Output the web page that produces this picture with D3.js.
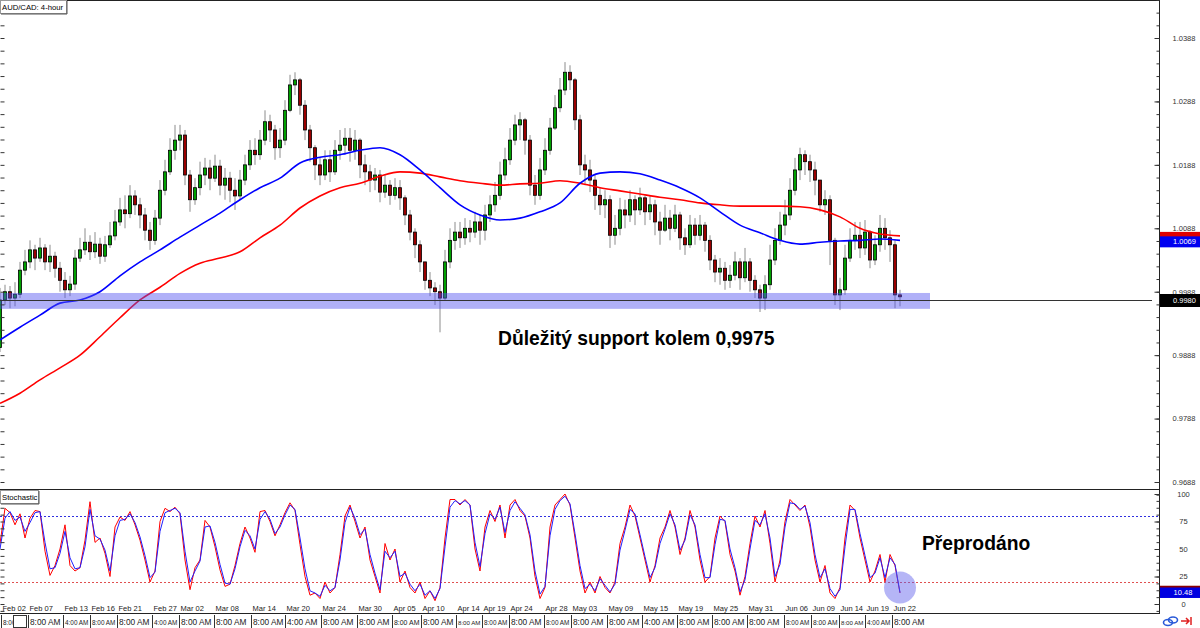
<!DOCTYPE html>
<html><head><meta charset="utf-8">
<script src="https://d3js.org/d3.v7.min.js"></script>
<style>
html,body{margin:0;padding:0;background:#fff;}
svg{display:block;font-family:"Liberation Sans",Arial,sans-serif;}
</style></head><body>
<svg id="chart" width="1200" height="628"></svg>
<script>
// ---------------- DATA ----------------
const firstOpen = 0.9900;
const closes = [
0.9975,0.9988,0.9978,0.9984,1.0022,1.0035,1.0054,1.0041,1.0057,1.0035,
1.0044,1.0025,1.0006,0.9991,1.0000,1.0041,1.0054,1.0066,1.0051,1.0063,
1.0044,1.0062,1.0076,1.0098,1.0117,1.0111,1.0139,1.0125,1.0109,1.0085,
1.0069,1.0104,1.0148,1.0177,1.0211,1.0227,1.0235,1.0172,1.0133,1.0152,
1.0172,1.0183,1.0167,1.0186,1.0156,1.0167,1.0148,1.0139,1.0164,1.0188,
1.0211,1.0204,1.0227,1.0256,1.0243,1.0215,1.0227,1.0274,1.0314,1.0322,
1.0282,1.0243,1.0215,1.0188,1.0172,1.0196,1.0177,1.0211,1.0219,1.0230,
1.0211,1.0227,1.0188,1.0177,1.0164,1.0172,1.0145,1.0156,1.0140,1.0152,
1.0136,1.0109,1.0082,1.0062,1.0035,1.0006,0.9994,0.9988,0.9978,1.0035,
1.0069,1.0082,1.0073,1.0088,1.0082,1.0098,1.0085,1.0109,1.0125,1.0140,
1.0172,1.0196,1.0227,1.0251,1.0259,1.0227,1.0156,1.0140,1.0180,1.0211,
1.0246,1.0278,1.0306,1.0334,1.0322,1.0259,1.0188,1.0180,1.0164,1.0140,
1.0125,1.0133,1.0077,1.0088,1.0117,1.0109,1.0133,1.0117,1.0136,1.0114,
1.0125,1.0098,1.0085,1.0104,1.0088,1.0109,1.0073,1.0062,1.0093,1.0077,
1.0093,1.0069,1.0038,1.0019,1.0025,1.0006,1.0014,1.0035,1.0010,1.0035,
1.0006,0.9991,0.9978,0.9999,1.0038,1.0069,1.0093,1.0109,1.0148,1.0180,
1.0204,1.0193,1.0180,1.0164,1.0125,1.0133,1.0069,0.9983,0.9991,1.0041,
1.0069,1.0077,1.0057,1.0082,1.0038,1.0062,1.0088,1.0073,1.0062,0.9983,
0.9980];
const highs = [
0.9994,0.9999,0.9997,1.0003,1.0035,1.0054,1.0069,1.0062,1.0073,1.0063,
1.0062,1.0051,1.0035,1.0019,1.0013,1.0054,1.0073,1.0088,1.0077,1.0082,
1.0073,1.0076,1.0098,1.0117,1.0136,1.0140,1.0156,1.0148,1.0136,1.0120,
1.0098,1.0117,1.0164,1.0196,1.0230,1.0251,1.0251,1.0243,1.0180,1.0167,
1.0193,1.0199,1.0196,1.0204,1.0196,1.0183,1.0177,1.0167,1.0180,1.0204,
1.0227,1.0230,1.0243,1.0274,1.0267,1.0251,1.0246,1.0290,1.0330,1.0334,
1.0325,1.0290,1.0251,1.0219,1.0199,1.0211,1.0211,1.0227,1.0243,1.0246,
1.0246,1.0243,1.0230,1.0204,1.0188,1.0183,1.0180,1.0172,1.0164,1.0167,
1.0164,1.0140,1.0117,1.0088,1.0069,1.0035,1.0019,1.0003,0.9999,1.0054,
1.0088,1.0098,1.0098,1.0104,1.0101,1.0114,1.0109,1.0125,1.0140,1.0161,
1.0193,1.0215,1.0246,1.0267,1.0271,1.0262,1.0235,1.0172,1.0199,1.0230,
1.0262,1.0298,1.0325,1.0350,1.0345,1.0325,1.0267,1.0204,1.0196,1.0172,
1.0152,1.0148,1.0140,1.0109,1.0136,1.0133,1.0148,1.0140,1.0152,1.0140,
1.0140,1.0133,1.0114,1.0125,1.0117,1.0125,1.0114,1.0088,1.0109,1.0104,
1.0109,1.0098,1.0077,1.0046,1.0041,1.0035,1.0030,1.0051,1.0041,1.0057,
1.0041,1.0014,0.9999,1.0014,1.0062,1.0088,1.0114,1.0133,1.0167,1.0199,
1.0215,1.0211,1.0204,1.0193,1.0164,1.0148,1.0140,1.0073,1.0010,1.0062,
1.0088,1.0098,1.0098,1.0101,1.0085,1.0077,1.0109,1.0104,1.0085,1.0069,
0.9991];
const lows = [
0.9893,0.9967,0.9962,0.9965,0.9978,1.0014,1.0025,1.0022,1.0035,1.0022,
1.0019,1.0010,0.9988,0.9978,0.9981,0.9991,1.0035,1.0046,1.0038,1.0041,
1.0032,1.0035,1.0057,1.0069,1.0092,1.0088,1.0104,1.0109,1.0088,1.0069,
1.0054,1.0062,1.0093,1.0140,1.0172,1.0196,1.0211,1.0156,1.0114,1.0125,
1.0140,1.0156,1.0148,1.0161,1.0140,1.0133,1.0129,1.0117,1.0133,1.0156,
1.0180,1.0188,1.0196,1.0219,1.0224,1.0196,1.0199,1.0219,1.0271,1.0298,
1.0267,1.0227,1.0193,1.0164,1.0156,1.0164,1.0161,1.0172,1.0196,1.0204,
1.0193,1.0196,1.0167,1.0156,1.0145,1.0148,1.0129,1.0136,1.0125,1.0133,
1.0117,1.0093,1.0069,1.0041,1.0019,0.9991,0.9981,0.9967,0.9924,0.9975,
1.0025,1.0054,1.0057,1.0062,1.0066,1.0073,1.0062,1.0069,1.0098,1.0114,
1.0133,1.0164,1.0188,1.0219,1.0227,1.0204,1.0140,1.0125,1.0133,1.0172,
1.0204,1.0243,1.0271,1.0298,1.0306,1.0243,1.0172,1.0156,1.0145,1.0117,
1.0109,1.0104,1.0057,1.0062,1.0077,1.0088,1.0098,1.0093,1.0109,1.0093,
1.0101,1.0077,1.0062,1.0082,1.0069,1.0082,1.0054,1.0046,1.0057,1.0062,
1.0069,1.0051,1.0022,1.0003,0.9999,0.9991,0.9994,1.0006,0.9991,1.0003,
0.9988,0.9978,0.9956,0.9959,0.9991,1.0030,1.0062,1.0077,1.0101,1.0140,
1.0164,1.0172,1.0161,1.0140,1.0114,1.0109,1.0030,0.9967,0.9959,0.9983,
1.0035,1.0054,1.0041,1.0046,1.0025,1.0030,1.0051,1.0054,1.0035,0.9962,
0.9965];
// moving averages, one reading every 4 bars
const maStep = 4;
const maBlue = [0.9912,0.9932,0.9951,0.9970,0.9975,0.9988,1.0013,1.0035,1.0054,1.0074,
1.0093,1.0112,1.0133,1.0152,1.0167,1.0191,1.0200,1.0204,1.0211,1.0215,
1.0204,1.0180,1.0152,1.0125,1.0109,1.0101,1.0104,1.0114,1.0128,1.0159,
1.0175,1.0177,1.0174,1.0164,1.0152,1.0136,1.0114,1.0093,1.0081,1.0069,
1.0063,1.0066,1.0068,1.0069,1.0071,1.0069];
const maRed = [0.9812,0.9828,0.9849,0.9868,0.9888,0.9917,0.9947,0.9975,0.9995,1.0017,
1.0033,1.0041,1.0051,1.0073,1.0093,1.0120,1.0139,1.0152,1.0159,1.0170,
1.0177,1.0175,1.0169,1.0163,1.0159,1.0156,1.0158,1.0159,1.0163,1.0159,
1.0152,1.0147,1.0142,1.0137,1.0133,1.0128,1.0125,1.0123,1.0123,1.0123,
1.0122,1.0117,1.0106,1.0088,1.0079,1.0076];
// stochastic (per bar)
const stochRed = [55,87,83,72,82,60,78,85,84,48,26,35,50,72,35,30,33,58,93,56,60,46,25,70,79,76,84,72,58,40,20,30,75,87,84,88,82,40,13,33,40,76,70,52,31,16,18,35,55,70,60,47,84,85,75,62,72,83,92,85,54,
25,8,10,5,20,10,15,45,80,90, 75,60,70,40,25,10,55,40,50,20, 30,15,10,20,5,12,3,15,60,95,
95,90,95,90,50,30,70,85,75,90, 60,90,95,85,80,60,25,5,15,70, 90,95,100,90,60,30,10,20,10,25,
15,10,20,55,70,90,80,60,40,20, 35,60,70,85,70,45,60,85,70,40, 20,25,60,80,75,45,30,8,25,55,
80,70,85,55,20,40,75,95,90,85, 90,70,40,20,35,10,5,15,60,90, 85,60,40,20,30,45,20,45,35,10];
const stochBlue = [50,78,84,76,79,66,74,83,84,56,32,33,46,66,42,32,33,52,86,62,59,49,30,62,76,77,82,74,61,44,24,29,66,83,85,87,83,48,20,30,39,70,71,56,36,19,18,32,52,67,62,50,77,84,77,64,70,81,90,86,60,
32,12,10,7,17,12,15,40,74,88, 78,63,68,45,28,13,48,42,48,25, 28,18,12,18,8,12,5,14,52,88,
94,91,94,90,56,34,64,82,77,88, 65,85,93,87,81,63,30,9,16,62, 86,94,98,91,64,35,14,18,12,23,
17,11,18,49,67,86,82,63,43,24, 33,55,68,82,72,49,58,81,72,45, 24,24,54,77,76,50,33,11,22,50,
76,72,82,60,25,36,70,92,91,86, 89,74,45,24,32,14,7,13,52,86, 86,64,44,24,28,42,24,42,36,10.48];
const priceTicks = [1.0388,1.0288,1.0188,1.0088,0.9988,0.9888,0.9788,0.9688];
const stochTicks = [100,75,50,25,0];
const stochLevels = [80,20];
const dateLabels = ["Feb 02","Feb 07","Feb 13","Feb 16","Feb 21","Feb 27","Mar 02","Mar 08","Mar 14","Mar 20","Mar 24","Mar 30","Apr 05","Apr 10","Apr 14","Apr 19","Apr 24","Apr 28","May 03","May 09","May 15","May 19","May 25","May 31","Jun 06","Jun 09","Jun 14","Jun 19","Jun 22"];
// bar position (in bar units) of each date label
const dateIdx = [0.2,5.6,12.6,18,23.4,30.4,35.8,42.8,50.2,57,64.2,71.4,78.4,84.2,91.2,96.4,101.8,108.8,114.2,121.4,128.4,135.4,142.4,149.4,156.8,162.2,167.8,173,178.4];
const timeLabels = ["8:00 AM","8:00 AM","4:00 AM","8:00 AM","8:00 AM","4:00 AM","8:00 AM","8:00 AM","8:00 AM","4:00 AM","8:00 AM","8:00 AM","8:00 AM","8:00 AM","8:00 AM","8:00 AM","8:00 AM","8:00 AM","8:00 AM","8:00 AM","4:00 AM","8:00 AM","8:00 AM","8:00 AM","8:00 AM","8:00 AM","8:00 AM","4:00 AM","8:00 AM"];
const supportZone = [0.9961, 0.9986];
const lastPrice = 0.9980, lastBlueMA = 1.0069, lastRedMA = 1.0076, lastStochBlue = 10.48, lastStochRed = 11.6;
const title = "AUD/CAD: 4-hour";
const noteSupport = "Důležitý support kolem 0,9975";
const noteStoch = "Přeprodáno";

// ---------------- CHART ----------------
const svg = d3.select("#chart");
const PR = 1159;
const x = d3.scaleLinear().domain([0,180]).range([0,900]);
const y = d3.scaleLinear().domain([0.9688,1.0388]).range([482,38]);
const ys = d3.scaleLinear().domain([0,100]).range([604,494]);
const fmt4 = d3.format(".4f");

const defs = svg.append("defs");
defs.append("clipPath").attr("id","cm").append("rect").attr("x",0).attr("y",1).attr("width",PR).attr("height",488);
defs.append("clipPath").attr("id","cs").append("rect").attr("x",0).attr("y",490).attr("width",PR).attr("height",123);

const main = svg.append("g").attr("clip-path","url(#cm)");
const candles = closes.map((c,i)=>({i, o: i===0?firstOpen:closes[i-1], h: highs[i], l: lows[i], c}));

main.append("g").selectAll("line").data(candles).join("line")
  .attr("x1",d=>x(d.i)).attr("x2",d=>x(d.i))
  .attr("y1",d=>y(Math.max(d.h,d.o,d.c))).attr("y2",d=>y(Math.min(d.l,d.o,d.c)))
  .attr("stroke","#8c8c8c").attr("stroke-width",1);
main.append("g").selectAll("rect").data(candles).join("rect")
  .attr("x",d=>x(d.i)-1.5).attr("width",3)
  .attr("y",d=>y(Math.max(d.o,d.c)))
  .attr("height",d=>Math.max(0.5,Math.abs(y(d.o)-y(d.c))))
  .attr("fill",d=>d.c>=d.o?"#00a000":"#9a0000")
  .attr("stroke","#000").attr("stroke-width",0.8);

const maLine = d3.line().x((d,k)=>x(k*maStep)).y(d=>y(d)).curve(d3.curveMonotoneX);
main.append("path").attr("d",maLine(maRed)).attr("fill","none").attr("stroke","#ff0000").attr("stroke-width",1.6);
main.append("path").attr("d",maLine(maBlue)).attr("fill","none").attr("stroke","#0000ff").attr("stroke-width",1.6);

// support zone
main.append("rect").attr("x",0).attr("width",930)
  .attr("y",y(supportZone[1])).attr("height",y(supportZone[0])-y(supportZone[1]))
  .attr("fill","rgb(80,80,240)").attr("fill-opacity",0.45);
// bid line (drawn at the centre of its price tag)
const bidY = Math.round(y(lastPrice)) + 3.5;
main.append("line").attr("x1",0).attr("x2",1152).attr("y1",bidY).attr("y2",bidY)
  .attr("stroke","#333").attr("stroke-width",1);

svg.append("text").attr("x",498).attr("y",345).attr("font-size",19.3).attr("font-weight","bold").attr("fill","#000").text(noteSupport);

// ---------------- STOCHASTIC ----------------
const st = svg.append("g").attr("clip-path","url(#cs)");
st.append("line").attr("x1",0).attr("x2",PR).attr("y1",Math.round(ys(stochLevels[0]))+0.5).attr("y2",Math.round(ys(stochLevels[0]))+0.5)
  .attr("stroke","#3030e0").attr("stroke-dasharray","2,2").attr("stroke-width",1);
st.append("line").attr("x1",0).attr("x2",PR).attr("y1",Math.round(ys(stochLevels[1]))+0.5).attr("y2",Math.round(ys(stochLevels[1]))+0.5)
  .attr("stroke","#e05050").attr("stroke-dasharray","2,2").attr("stroke-width",1);
const sLine = d3.line().x((d,i)=>x(i)).y(d=>ys(d));
st.append("path").attr("d",sLine(stochRed)).attr("fill","none").attr("stroke","#ff0000").attr("stroke-width",1);
st.append("path").attr("d",sLine(stochBlue)).attr("fill","none").attr("stroke","#2020ff").attr("stroke-width",1);
st.append("circle").attr("cx",x(180)).attr("cy",ys(15)).attr("r",16).attr("fill","rgb(90,90,235)").attr("fill-opacity",0.45);
svg.append("text").attr("x",922).attr("y",550).attr("font-size",19.3).attr("font-weight","bold").attr("fill","#000").text(noteStoch);

// ---------------- FRAME ----------------
const frame = svg.append("g").attr("stroke","#222").attr("stroke-width",1);
frame.append("line").attr("x1",0).attr("x2",PR).attr("y1",0.5).attr("y2",0.5);
frame.append("line").attr("x1",0).attr("x2",PR).attr("y1",489.5).attr("y2",489.5);
frame.append("line").attr("x1",0).attr("x2",PR).attr("y1",613.5).attr("y2",613.5);
frame.append("line").attr("x1",PR+0.5).attr("x2",PR+0.5).attr("y1",0).attr("y2",614);

// ---------------- AXES ----------------
function styleAxis(g, fs){ g.select(".domain").remove(); g.attr("font-family","'Liberation Sans',Arial,sans-serif").attr("font-size",fs).attr("color","#333"); }
const minorP = d3.range(-3,37).map(k=>1.0388-k*0.002);
svg.append("g").attr("transform",`translate(${PR+0.5},0)`)
  .call(d3.axisRight(y).tickValues(minorP).tickSize(-3).tickFormat(""))
  .call(g=>styleAxis(g,7.5));
svg.append("g").attr("transform",`translate(0.5,0)`)
  .call(d3.axisLeft(y).tickValues(minorP).tickSize(-4).tickFormat(""))
  .call(g=>styleAxis(g,7.5));
svg.append("g").attr("transform",`translate(${PR+0.5},0)`)
  .call(d3.axisRight(y).tickValues(priceTicks).tickSize(-5).tickPadding(13).tickFormat(fmt4))
  .call(g=>styleAxis(g,7.5));
const minorS = d3.range(-6.25,106,6.25);
svg.append("g").attr("transform",`translate(${PR+0.5},0)`)
  .call(d3.axisRight(ys).tickValues(minorS).tickSize(-3).tickFormat(""))
  .call(g=>styleAxis(g,7.5));
svg.append("g").attr("transform",`translate(0.5,0)`)
  .call(d3.axisLeft(ys).tickValues(minorS).tickSize(-4).tickFormat(""))
  .call(g=>styleAxis(g,7.5));
svg.append("g").attr("transform",`translate(${PR+0.5},0)`)
  .call(d3.axisRight(ys).tickValues(stochTicks).tickSize(-5).tickPadding(24).tickFormat(d3.format("d")))
  .call(g=>{styleAxis(g,7.5); g.selectAll("text").attr("text-anchor","middle");});

// right-hand value tags
function priceTag(fill, yy, h, txt){
  const g = svg.append("g");
  g.append("rect").attr("x",PR+1).attr("y",yy).attr("width",1200-PR-1).attr("height",h).attr("fill",fill);
  if (txt) g.append("text").attr("x",1173).attr("y",yy+h/2).attr("dy","0.35em").attr("font-size",7.5).attr("fill","#fff").text(txt);
}
priceTag("#e00000", y(lastRedMA)-4, 12, null);          // red MA tag, hidden under the blue one
priceTag("#0000f0", y(lastBlueMA)-4, 11, fmt4(lastBlueMA));
priceTag("#000", bidY-6.5, 13, fmt4(lastPrice));
svg.append("rect").attr("x",PR+1).attr("y",ys(lastStochRed)-5.5).attr("width",1200-PR-1).attr("height",11).attr("fill","#8b0000");
svg.append("rect").attr("x",PR+1).attr("y",ys(lastStochBlue)-5).attr("width",1200-PR-1).attr("height",10.5).attr("fill","#0000e0");
svg.append("text").attr("x",1183).attr("y",ys(lastStochBlue)).attr("dy","0.35em").attr("text-anchor","middle").attr("font-size",7.5).attr("fill","#fff").text(d3.format(".2f")(lastStochBlue));

// title boxes
function tagBox(tx, yy, w){
  const g = svg.append("g");
  g.append("rect").attr("x",0.5).attr("y",yy+0.5).attr("width",w).attr("height",13).attr("fill","#fff").attr("stroke","#999");
  g.append("line").attr("x1",1).attr("x2",w+1).attr("y1",yy+14).attr("y2",yy+14).attr("stroke","#555");
  g.append("line").attr("x1",w+1).attr("x2",w+1).attr("y1",yy+1).attr("y2",yy+14).attr("stroke","#555");
  g.append("text").attr("x",2).attr("y",yy+10).attr("font-size",7.7).attr("fill","#000").text(tx);
}
tagBox(title,0,66);
tagBox("Stochastic",490,38);

// x axis labels
const xl = svg.append("g").attr("font-size",7.5).attr("fill","#222");
xl.selectAll("text").data(dateLabels).join("text")
  .attr("x",(d,i)=>x(dateIdx[i])+1.5).attr("y",611).text(d=>d);
const tl = svg.append("g");
timeLabels.forEach((t,i)=>{
  const xx = Math.round(x(dateIdx[i]));
  const nx = i < timeLabels.length-1 ? Math.round(x(dateIdx[i+1])) : 1159;
  const fs = Math.min(8.3, (nx-xx-3)/3.75);
  tl.append("rect").attr("x",xx).attr("y",614).attr("width",44).attr("height",14).attr("fill","#fff");
  tl.append("line").attr("x1",xx+0.5).attr("x2",xx+0.5).attr("y1",615).attr("y2",628).attr("stroke","#333");
  tl.append("text").attr("x",xx+2).attr("y",625).attr("font-size",fs).attr("fill","#222").text(t);
});
tl.append("rect").attr("x",13.5).attr("y",615.5).attr("width",13).attr("height",12).attr("fill","#fff").attr("stroke","#333");

// bottom-right icons
const ic = svg.append("g").attr("fill","none");
ic.append("ellipse").attr("cx",1168).attr("cy",622.5).attr("rx",4.5).attr("ry",3).attr("stroke","#2a5ad8").attr("stroke-width",1.6);
ic.append("ellipse").attr("cx",1173).attr("cy",620).attr("rx",4.5).attr("ry",3).attr("stroke","#2a5ad8").attr("stroke-width",1.6);
ic.append("path").attr("d","M1181,621 H1189 M1186,618 L1189,621 L1186,624 M1191,617 V625").attr("stroke","#e02020").attr("stroke-width",1.5);
</script>
</body></html>
